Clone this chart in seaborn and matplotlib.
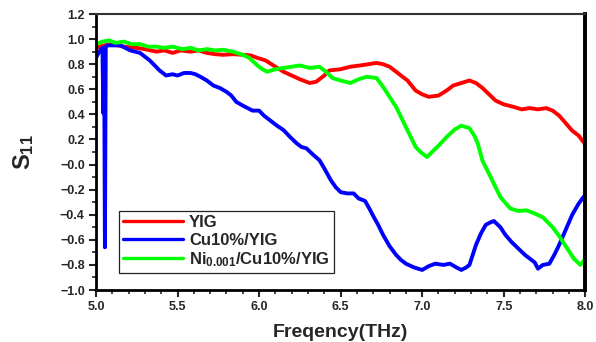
import numpy as np
import pandas as pd
import matplotlib
matplotlib.use("Agg")
import matplotlib.pyplot as plt
from matplotlib.ticker import MultipleLocator
import seaborn as sns

# --- S11 spectra (frequency in THz) ---
yig_f = [5.00, 5.05, 5.10, 5.17, 5.25, 5.30, 5.37, 5.42, 5.47, 5.52, 5.58, 5.63, 5.68, 5.73,
         5.78, 5.84, 5.90, 5.95, 5.99, 6.04, 6.10, 6.15, 6.20, 6.25, 6.31, 6.35, 6.40, 6.43,
         6.50, 6.56, 6.62, 6.67, 6.72, 6.76, 6.80, 6.84, 6.88, 6.91, 6.96, 7.00, 7.04, 7.10,
         7.15, 7.19, 7.24, 7.29, 7.33, 7.37, 7.41, 7.45, 7.50, 7.56, 7.61, 7.66, 7.71, 7.76,
         7.80, 7.84, 7.88, 7.92, 7.96, 8.00]
yig_s = [0.93, 0.95, 0.96, 0.94, 0.93, 0.92, 0.90, 0.91, 0.89, 0.91, 0.90, 0.91, 0.89, 0.88,
         0.875, 0.88, 0.875, 0.87, 0.85, 0.83, 0.78, 0.74, 0.71, 0.68, 0.65, 0.66, 0.71, 0.75,
         0.76, 0.78, 0.79, 0.80, 0.81, 0.80, 0.78, 0.74, 0.70, 0.67, 0.59, 0.56, 0.54, 0.55,
         0.59, 0.63, 0.65, 0.67, 0.65, 0.61, 0.56, 0.51, 0.48, 0.46, 0.44, 0.45, 0.44, 0.45,
         0.43, 0.39, 0.33, 0.27, 0.23, 0.16]

cu_f = [5.00, 5.02, 5.04, 5.045, 5.05, 5.055, 5.06, 5.07, 5.10, 5.15, 5.18, 5.21, 5.24, 5.27,
        5.30, 5.33, 5.36, 5.39, 5.43, 5.47, 5.50, 5.54, 5.58, 5.61, 5.64, 5.68, 5.72, 5.76,
        5.80, 5.83, 5.86, 5.90, 5.93, 5.96, 6.00, 6.03, 6.07, 6.11, 6.15, 6.19, 6.23, 6.26,
        6.29, 6.33, 6.37, 6.40, 6.44, 6.47, 6.50, 6.54, 6.58, 6.61, 6.65, 6.68, 6.70, 6.73,
        6.76, 6.80, 6.84, 6.87, 6.90, 6.95, 7.00, 7.04, 7.08, 7.13, 7.17, 7.21, 7.24, 7.27,
        7.29, 7.31, 7.33, 7.36, 7.39, 7.42, 7.44, 7.48, 7.51, 7.55, 7.59, 7.63, 7.66, 7.69,
        7.71, 7.74, 7.78, 7.81, 7.84, 7.88, 7.92, 7.96, 8.00]
cu_s = [0.85, 0.90, 0.93, 0.41, 0.93, -0.66, 0.94, 0.95, 0.95, 0.95, 0.93, 0.91, 0.90, 0.89,
        0.86, 0.83, 0.79, 0.75, 0.71, 0.72, 0.71, 0.73, 0.73, 0.72, 0.70, 0.67, 0.63, 0.61,
        0.58, 0.55, 0.50, 0.47, 0.45, 0.43, 0.43, 0.39, 0.35, 0.31, 0.275, 0.22, 0.17, 0.14,
        0.13, 0.08, 0.035, -0.03, -0.125, -0.18, -0.22, -0.23, -0.23, -0.27, -0.29, -0.36, -0.41, -0.48,
        -0.56, -0.65, -0.72, -0.76, -0.79, -0.82, -0.84, -0.81, -0.79, -0.80, -0.79, -0.82, -0.84, -0.82,
        -0.80, -0.72, -0.64, -0.55, -0.48, -0.46, -0.45, -0.50, -0.56, -0.62, -0.67, -0.72, -0.75, -0.78,
        -0.83, -0.80, -0.79, -0.72, -0.64, -0.52, -0.40, -0.31, -0.24]

ni_f = [5.00, 5.04, 5.08, 5.12, 5.17, 5.22, 5.27, 5.32, 5.37, 5.42, 5.47, 5.53, 5.58, 5.63,
        5.68, 5.73, 5.78, 5.84, 5.90, 5.94, 5.99, 6.02, 6.05, 6.10, 6.15, 6.20, 6.25, 6.31,
        6.37, 6.41, 6.45, 6.50, 6.56, 6.61, 6.66, 6.72, 6.76, 6.80, 6.84, 6.87, 6.90, 6.93,
        6.96, 6.99, 7.03, 7.06, 7.10, 7.15, 7.20, 7.24, 7.29, 7.32, 7.34, 7.37, 7.42, 7.45,
        7.48, 7.54, 7.59, 7.64, 7.69, 7.74, 7.80, 7.84, 7.87, 7.90, 7.93, 7.97, 8.00]
ni_s = [0.96, 0.98, 0.99, 0.97, 0.98, 0.96, 0.96, 0.94, 0.94, 0.93, 0.94, 0.92, 0.93, 0.91,
        0.92, 0.91, 0.915, 0.90, 0.875, 0.85, 0.79, 0.76, 0.74, 0.76, 0.77, 0.78, 0.79, 0.77,
        0.78, 0.74, 0.69, 0.67, 0.65, 0.68, 0.70, 0.69, 0.62, 0.54, 0.46, 0.38, 0.30, 0.22,
        0.14, 0.10, 0.06, 0.10, 0.15, 0.22, 0.28, 0.31, 0.29, 0.23, 0.17, 0.03, -0.10, -0.18,
        -0.26, -0.35, -0.37, -0.365, -0.39, -0.42, -0.50, -0.57, -0.63, -0.69, -0.75, -0.80, -0.75]

labels = ["YIG", "Cu10%/YIG", r"Ni$_{\mathbf{0.001}}$/Cu10%/YIG"]
colors = ["#ff0000", "#0000ff", "#00ff00"]

df = pd.concat([
    pd.DataFrame({"f": yig_f, "s11": yig_s, "sample": labels[0]}),
    pd.DataFrame({"f": cu_f, "s11": cu_s, "sample": labels[1]}),
    pd.DataFrame({"f": ni_f, "s11": ni_s, "sample": labels[2]}),
], ignore_index=True)

sns.set_style("ticks")
plt.rcParams["font.family"] = ["Liberation Sans", "DejaVu Sans"]
plt.rcParams["font.weight"] = "bold"
plt.rcParams["mathtext.fontset"] = "custom"
plt.rcParams["mathtext.rm"] = "Liberation Sans:bold"
plt.rcParams["mathtext.bf"] = "Liberation Sans:bold"
plt.rcParams["mathtext.it"] = "Liberation Sans:bold"

fig = plt.figure(figsize=(5.96, 3.42), dpi=100)
ax = fig.add_axes([0.161, 0.152, 0.821, 0.807])

sns.lineplot(data=df, x="f", y="s11", hue="sample", palette=colors,
             hue_order=labels, estimator=None, sort=False, linewidth=2.8, ax=ax)

ax.set_xlim(5.0, 8.0)
ax.set_ylim(-1.0, 1.2)
ax.xaxis.set_minor_locator(MultipleLocator(0.1))
ax.yaxis.set_minor_locator(MultipleLocator(0.1))
xt = np.arange(5.0, 8.01, 0.5)
yt = np.arange(-1.0, 1.21, 0.2)
ax.set_xticks(xt)
ax.set_xticklabels([f"{v:.1f}" for v in xt])
ax.set_yticks(yt)
ax.set_yticklabels([f"{v:.1f}".replace("-", "\u2212") for v in yt])

ax.tick_params(which="major", direction="out", length=5, width=1.5, labelsize=9, pad=3)
ax.tick_params(which="minor", direction="out", length=3, width=1.2)
for lab in ax.get_xticklabels() + ax.get_yticklabels():
    lab.set_fontweight("bold")

for side in ["left", "bottom", "right"]:
    ax.spines[side].set_linewidth(2.0)
    ax.spines[side].set_color("black")
ax.spines["right"].set_linewidth(2.8)
ax.spines["top"].set_linewidth(1.5)
ax.spines["top"].set_color("#333333")

ax.set_xlabel("Freqency(THz)", fontsize=14, fontweight="bold", labelpad=8)
ax.set_ylabel(r"$\mathbf{S}_{\mathbf{11}}$", fontsize=17, labelpad=17)

leg = ax.legend(loc="lower left", bbox_to_anchor=(0.047, 0.062), borderaxespad=0,
                fancybox=False, frameon=True, edgecolor="#222222", framealpha=1,
                prop={"weight": "bold", "size": 12}, handlelength=3.6,
                labelspacing=0.15, borderpad=0.25, handletextpad=0.35)
leg.get_frame().set_linewidth(0.9)
for line in leg.get_lines():
    line.set_linewidth(2.4)

fig.savefig("out.png", dpi=100)
